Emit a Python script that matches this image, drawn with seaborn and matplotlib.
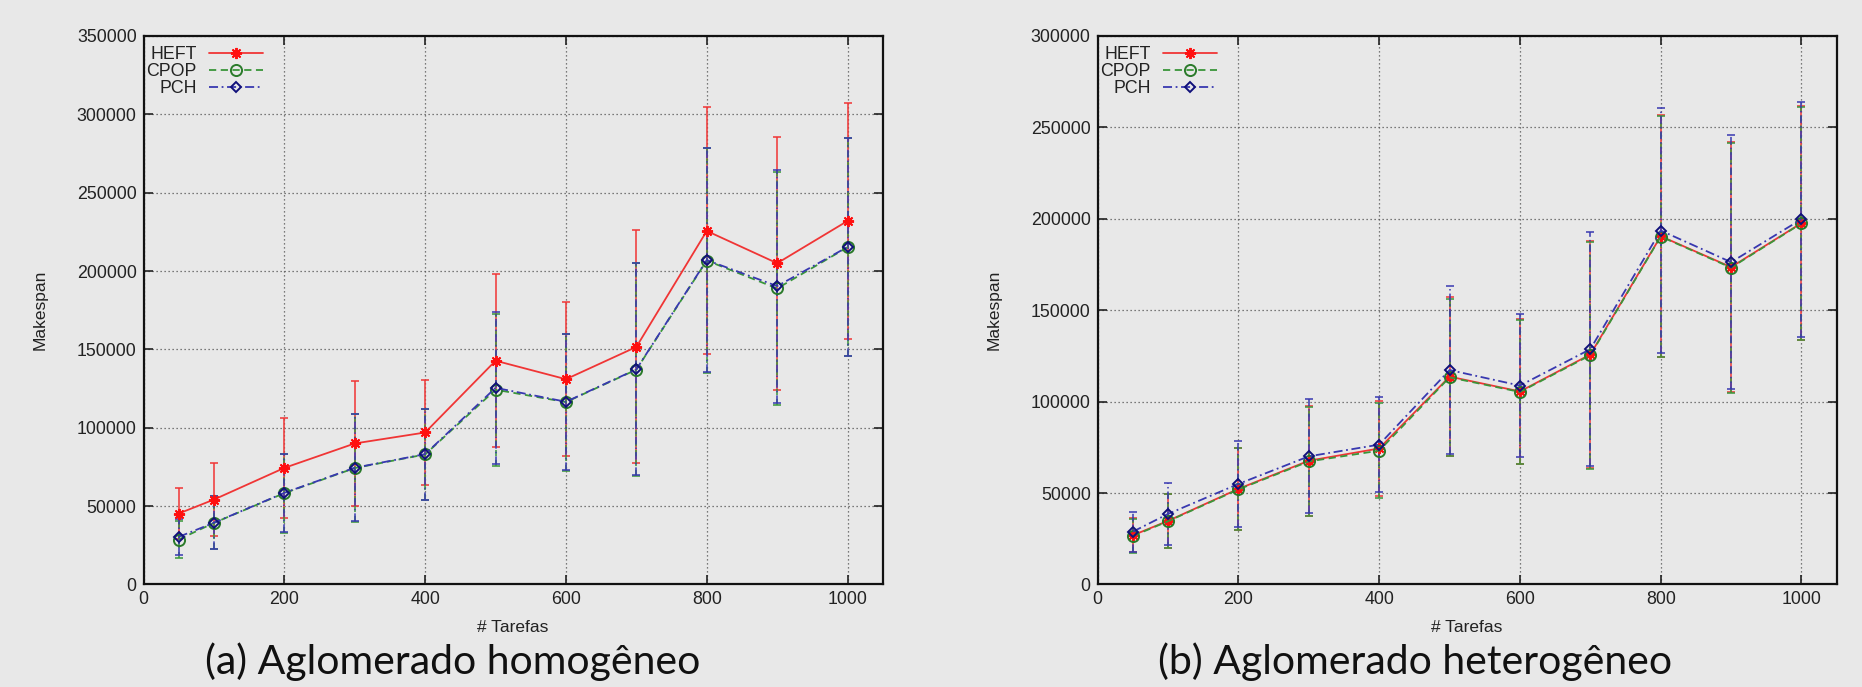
import numpy as np
import pandas as pd
import matplotlib
matplotlib.use("Agg")
import matplotlib.pyplot as plt
import seaborn as sns

# ---------------- data ----------------
tasks = [50, 100, 200, 300, 400, 500, 600, 700, 800, 900, 1000]

# (a) Aglomerado homogêneo
homo_heft = [45300, 54200, 74400, 90000, 97000, 142800, 131000, 151600, 225600, 205000, 232000]
homo_heft_err = [16000, 23200, 32000, 39600, 33700, 55200, 49300, 74300, 78800, 80800, 75400]
homo_cpop = [28700, 39300, 58300, 74300, 83000, 124300, 116400, 137100, 206700, 188900, 215200]
homo_cpop_err = [11800, 16900, 25200, 34200, 29200, 48600, 43700, 67800, 72000, 74200, 69700]
homo_pch = [30400, 39400, 58500, 74500, 83200, 125500, 116600, 137300, 207000, 190400, 215400]
homo_pch_err = [11600, 16800, 25000, 34000, 29000, 48300, 43500, 67700, 71600, 74400, 69500]

# (b) Aglomerado heterogêneo
hetero_heft = [26900, 34800, 52300, 67700, 74400, 113700, 105600, 125800, 190500, 173600, 197700]
hetero_heft_err = [9200, 14900, 22500, 30000, 26100, 43300, 39800, 62200, 66200, 68500, 64000]
hetero_cpop = [26500, 34600, 52000, 67300, 73200, 113300, 105300, 125400, 190300, 173300, 197500]
hetero_cpop_err = [9100, 14800, 22400, 29800, 25900, 43100, 39600, 62000, 66000, 68300, 63800]
hetero_pch = [28900, 38600, 55000, 70100, 76500, 117300, 108800, 128700, 193600, 176300, 199800]
hetero_pch_err = [10900, 17100, 23500, 31200, 26100, 45800, 38900, 64000, 67100, 69600, 64300]

series_names = ["HEFT", "CPOP", "PCH"]
panel_titles = ["(a) Aglomerado homogêneo", "(b) Aglomerado heterogêneo"]
x_label = "# Tarefas"
y_label = "Makespan"
y_limits = [350000, 300000]

# ---------------- style ----------------
BG = "#e8e8e8"
sns.set_theme(style="ticks")
plt.rcParams["font.family"] = ["Liberation Sans", "DejaVu Sans"]
plt.rcParams["figure.facecolor"] = BG
plt.rcParams["axes.facecolor"] = BG
plt.rcParams["savefig.facecolor"] = BG

styles = {
    "HEFT": dict(line="#f03535", mark="#ff1010", ls="-", marker=(8, 2, 0), ms=8, fill=True),
    "CPOP": dict(line="#3a963a", mark="#2a7a2a", ls=(0, (4, 2.5)), marker="o", ms=8, fill=False),
    "PCH": dict(line="#3838b0", mark="#10107a", ls=(0, (5, 2, 1, 2)), marker="D", ms=5.5, fill=False),
}

fig = plt.figure(figsize=(18.62, 6.87), dpi=100)
ax_rects = [[0.0771, 0.1492, 0.3970, 0.7984], [0.5895, 0.1492, 0.3969, 0.7984]]

panels = [
    (homo_heft, homo_heft_err, homo_cpop, homo_cpop_err, homo_pch, homo_pch_err),
    (hetero_heft, hetero_heft_err, hetero_cpop, hetero_cpop_err, hetero_pch, hetero_pch_err),
]

FS = 12.8
for i, (rect, pdata) in enumerate(zip(ax_rects, panels)):
    ax = fig.add_axes(rect)
    vals = {"HEFT": (pdata[0], pdata[1]), "CPOP": (pdata[2], pdata[3]), "PCH": (pdata[4], pdata[5])}
    handles = []
    for name in series_names:
        st = styles[name]
        y, e = vals[name]
        eb = ax.errorbar(tasks, y, yerr=e, fmt="none", ecolor=st["line"], elinewidth=1.1,
                         capsize=3, capthick=1.1, zorder=2)
        eb[2][0].set_linestyle(st["ls"])
        df = pd.DataFrame({"x": tasks, "y": y})
        sns.lineplot(data=df, x="x", y="y", ax=ax, color=st["line"], linestyle=st["ls"],
                     linewidth=1.3, marker=st["marker"], markersize=st["ms"],
                     markeredgecolor=st["mark"], markeredgewidth=1.4,
                     markerfacecolor=st["mark"] if st["fill"] else "none",
                     label=name, zorder=3, legend=False)
        handles.append(ax.get_lines()[-1])
    ax.set_xlim(0, 1050)
    ax.set_ylim(0, y_limits[i])
    ax.set_xticks(np.arange(0, 1001, 200))
    ax.set_yticks(np.arange(0, y_limits[i] + 1, 50000))
    ax.grid(True, linestyle=(0, (1, 2.2)), color="#555555", linewidth=0.9)
    ax.tick_params(direction="in", length=6.5, width=1.2, top=True, right=True,
                   labelsize=FS, pad=5, colors="#222222", labelcolor="#222222")
    for sp in ax.spines.values():
        sp.set_visible(True)
        sp.set_color("#111111")
        sp.set_linewidth(1.6)
    ax.set_xlabel(x_label, fontsize=12.5, color="#222222")
    ax.set_ylabel(y_label, fontsize=12.5, color="#222222")
    ax.xaxis.set_label_coords(0.5, -0.079)
    ax.xaxis.label.set_va("center")
    ax.yaxis.set_label_coords(-0.140, 0.5)
    ax.yaxis.label.set_va("center")
    leg = ax.legend(handles=handles, labels=series_names, loc="upper left",
                    bbox_to_anchor=(0.004, 0.982), frameon=False, markerfirst=False,
                    fontsize=FS, handlelength=3.0, handletextpad=0.7, labelspacing=0.0,
                    borderpad=0, borderaxespad=0)
    for t in leg.get_texts():
        t.set_color("#222222")
    cx = 0.243 if i == 0 else 0.760
    fig.text(cx, 0.019, panel_titles[i], ha="center", va="baseline", fontsize=29.5,
             family=["Lato", "DejaVu Sans"], color="#111111")

fig.savefig("out.png", dpi=100)
